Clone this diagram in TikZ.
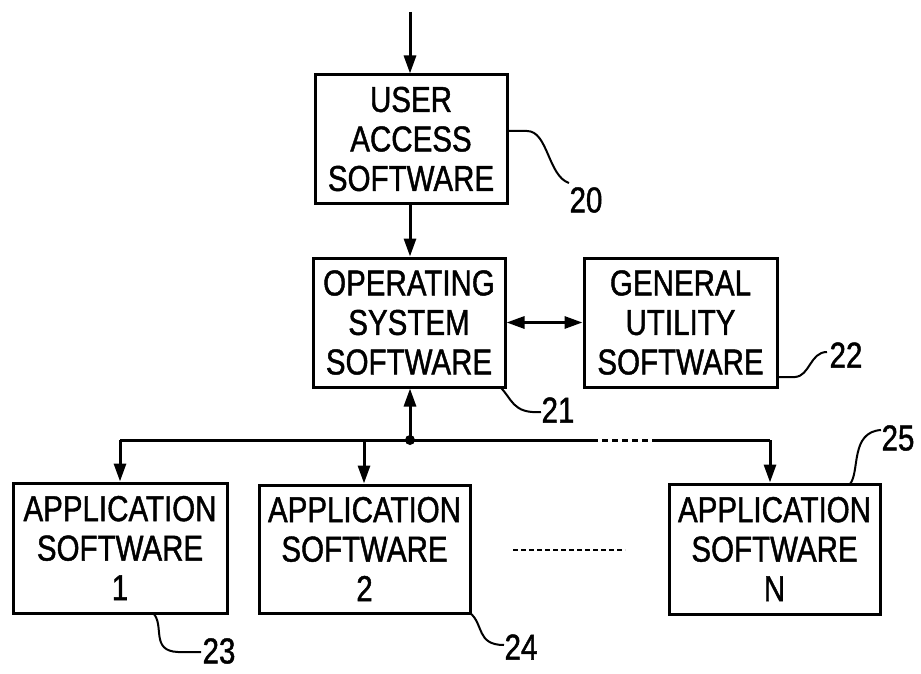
\documentclass[tikz,border=0pt]{standalone}
\usepackage{fontspec}
\setmainfont[FakeStretch=0.82,FakeBold=1.2]{Liberation Sans}
\usetikzlibrary{arrows.meta}
\begin{document}
\begin{tikzpicture}[x=1pt,y=-1pt,
  box/.style={draw,line width=3pt,inner sep=0pt,align=center,font=\fontsize{36}{39.5}\selectfont},
  lbl/.style={inner sep=0pt,font=\fontsize{36}{39.5}\selectfont},
  conn/.style={line width=3pt,-{Triangle[length=18pt,width=12pt]}},
  dconn/.style={line width=3pt,{Triangle[length=18pt,width=12pt]}-{Triangle[length=18pt,width=12pt]}},
  busline/.style={line width=3pt},
  lead/.style={line width=2pt}]
\useasboundingbox (0,0) rectangle (921,674);
% boxes
\node[box,minimum width=192pt,minimum height=128pt] (b20) at (411,139) {USER\\ACCESS\\SOFTWARE};
\node[box,minimum width=192pt,minimum height=129pt] (b21) at (409,322.5) {OPERATING\\SYSTEM\\SOFTWARE};
\node[box,minimum width=193pt,minimum height=129pt] (b22) at (680.5,322.5) {GENERAL\\UTILITY\\SOFTWARE};
\node[box,minimum width=214pt,minimum height=130pt] (b23) at (120,548) {APPLICATION\\SOFTWARE\\1};
\node[box,minimum width=211pt,minimum height=128pt] (b24) at (364.5,549) {APPLICATION\\SOFTWARE\\2};
\node[box,minimum width=211pt,minimum height=130pt] (b25) at (774.5,549) {APPLICATION\\SOFTWARE\\N};
% labels
\node[lbl] (n20) at (586,200) {20};
\node[lbl] (n21) at (558,410) {21};
\node[lbl] (n22) at (846,355) {22};
\node[lbl] (n23) at (219,651) {23};
\node[lbl] (n24) at (521,647) {24};
\node[lbl] (n25) at (898,438) {25};
% input arrow
\coordinate (in) at (410,12);
\draw[conn] (in) -- (in |- b20.north);
\draw[conn] (b20.south -| in) -- (b21.north -| in);
\draw[dconn] (b21.east) -- (b22.west);
% bus
\coordinate (t1) at (120,440);
\coordinate (t2) at (364,440);
\coordinate (jn) at (410,440);
\coordinate (d1) at (592,440);
\coordinate (d2) at (652,440);
\coordinate (t3) at (770,440);
\draw[busline] (t1) -- (d1);
\draw[busline,dash pattern=on 6pt off 4pt] (d1) -- (d2);
\draw[busline] (d2) -- (t3);
\draw[conn] (jn) -- (jn |- b21.south);
\fill (jn) circle (5pt);
\draw[conn] (t1) -- (t1 |- b23.north);
\draw[conn] (t2) -- (t2 |- b24.north);
\draw[conn] (t3) -- (t3 |- b25.north);
% dotted between 2 and N
\coordinate (e1) at (513,550);
\coordinate (e2) at (625,550);
\draw[line width=2.2pt,dash pattern=on 5pt off 3pt] (e1) -- (e2);
% leaders
\coordinate (a20) at (507,131);
\coordinate (z20) at (569,183);
\draw[lead] (a20) -- (527,131) .. controls (548,131) and (548,176) .. (z20);
\coordinate (a21) at (500,387);
\coordinate (z21) at (541,412);
\draw[lead] (a21) .. controls (512,398) and (512,414) .. (z21);
\coordinate (a22) at (777,377);
\coordinate (z22) at (827,352);
\draw[lead] (a22) -- (795,377) .. controls (810,376) and (810,352) .. (z22);
\coordinate (a23) at (153,613);
\coordinate (z23) at (201,652);
\draw[lead] (a23) .. controls (165,625) and (150,651) .. (178,652) -- (z23);
\coordinate (a24) at (470,613);
\coordinate (z24) at (504,645);
\draw[lead] (a24) .. controls (484,624) and (476,645) .. (z24);
\coordinate (a25) at (850,484);
\coordinate (z25) at (881,430);
\draw[lead] (a25) .. controls (860,472) and (850,432) .. (z25);
\end{tikzpicture}
\end{document}
